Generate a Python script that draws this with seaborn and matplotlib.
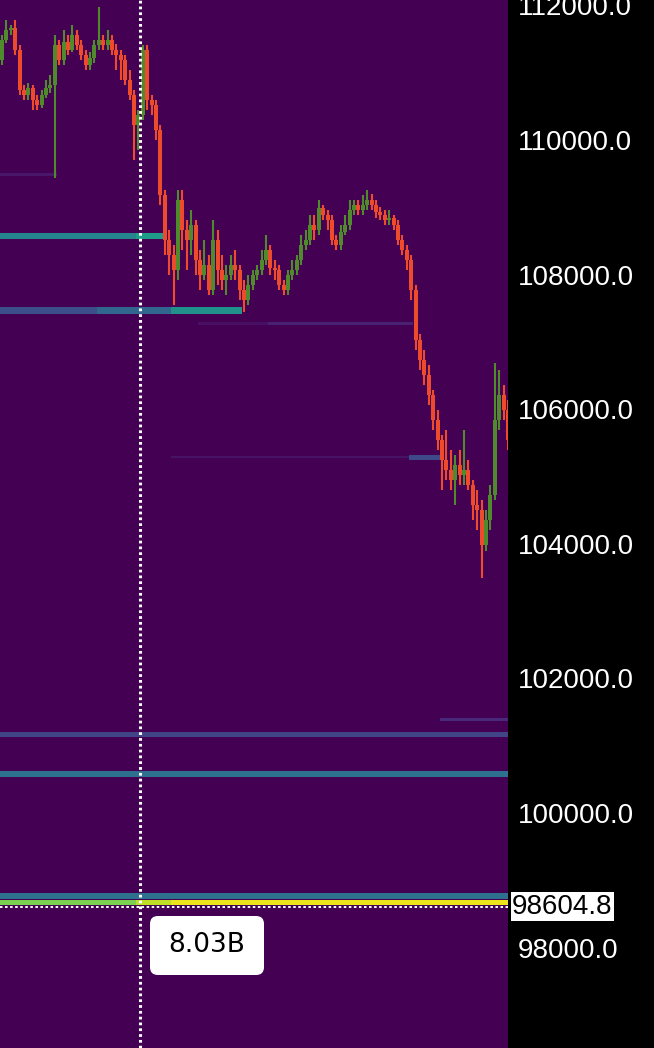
import numpy as np
import pandas as pd
import matplotlib
matplotlib.use("Agg")
import matplotlib.pyplot as plt
import matplotlib.transforms as mtransforms
from matplotlib.patches import FancyBboxPatch
import seaborn as sns

# ---------------- data ----------------
first_open = 111190
closes = [111490, 111640, 111660, 111340, 110740, 110670, 110770, 110590, 110520, 110670,
          110770, 110820, 111410, 111190, 111460, 111340, 111560, 111410, 111260, 111120,
          111220, 111410, 111490, 111410, 111490, 111340, 111260, 111190, 110890, 110670,
          110220, 110370, 111340, 110590, 110520, 110150, 109180, 108510, 108290, 108070,
          109110, 108660, 108510, 108740, 108220, 107990, 108140, 107770, 108510, 108070,
          107920, 107990, 108140, 108070, 107770, 107620, 107850, 107990, 108070, 108220,
          108370, 108100, 108070, 107850, 107770, 107990, 108070, 108220, 108440, 108510,
          108740, 108660, 108990, 108890, 108810, 108510, 108440, 108630, 108740, 108960,
          109030, 108960, 109030, 109110, 109030, 108930, 108890, 108810, 108840, 108740,
          108510, 108370, 108220, 107770, 107030, 106730, 106510, 106210, 105840, 105540,
          105250, 105100, 104950, 105170, 105020, 105100, 104870, 104580, 104500, 103980,
          104350, 104720, 105840, 106210, 105990, 105540]
highs = [111560, 111780, 111710, 111780, 111410, 110820, 110840, 110820, 110670, 110740,
         110890, 110960, 111560, 111490, 111640, 111560, 111710, 111640, 111490, 111340,
         111300, 111490, 111980, 111560, 111640, 111560, 111420, 111340, 111260, 111040,
         110740, 110450, 111410, 111410, 110670, 110590, 110220, 109260, 108660, 108440,
         109260, 109260, 108810, 108960, 108810, 108370, 108510, 108290, 108810, 108660,
         108290, 108140, 108290, 108370, 108140, 107920, 107990, 108070, 108140, 108370,
         108590, 108440, 108220, 108140, 107920, 108070, 108220, 108290, 108590, 108660,
         108890, 108890, 109110, 109040, 108960, 108890, 108590, 108740, 108890, 109110,
         109110, 109110, 109180, 109260, 109200, 109110, 109000, 108960, 108960, 108890,
         108810, 108590, 108440, 108290, 107850, 107110, 106880, 106660, 106280, 105990,
         105620, 105690, 105390, 105320, 105390, 105690, 105250, 104950, 104800, 104650,
         104500, 104870, 106690, 106580, 106360, 106140]
lows = [111120, 111440, 111560, 111260, 110670, 110590, 110600, 110450, 110450, 110480,
        110620, 110700, 109440, 111120, 111120, 111260, 111300, 111340, 111190, 111040,
        111040, 111150, 111340, 111340, 111340, 111260, 111040, 110890, 110820, 110590,
        109700, 109850, 110300, 110450, 110370, 110000, 109030, 108290, 108000, 107550,
        107920, 108370, 108070, 108290, 107990, 107770, 107920, 107700, 107700, 107850,
        107770, 107700, 107920, 107920, 107620, 107440, 107550, 107770, 107920, 107990,
        108140, 107990, 107920, 107770, 107700, 107700, 107920, 107990, 108140, 108370,
        108440, 108510, 108590, 108810, 108660, 108440, 108370, 108370, 108590, 108660,
        108890, 108890, 108890, 108960, 108960, 108840, 108810, 108740, 108740, 108660,
        108440, 108290, 108070, 107620, 106880, 106580, 106360, 106060, 105690, 105390,
        104800, 104950, 104800, 104580, 104870, 104870, 104800, 104350, 104200, 103490,
        103900, 104200, 104650, 105690, 105840, 105390]

# liquidation heat levels: price, band height ($), first candle, last candle, intensity
heat_price = [109480, 108573, 108573, 107474, 107474, 107474, 107281, 107281,
              105289, 105289, 101381, 101173, 100578, 98766, 98670, 98670, 98670]
heat_band = [40, 100, 100, 100, 100, 100, 50, 50, 40, 75, 50, 75, 85, 100, 75, 75, 75]
heat_start = [0, 0, 31, 0, 22, 39, 45, 61, 39, 93, 100, 0, 0, 0, 0, 31, 39]
heat_end = [12, 30, 36, 21, 38, 54, 60, 93, 92, 99, 115, 115, 115, 115, 30, 38, 115]
heat_value = [0.06, 0.45, 0.55, 0.24, 0.33, 0.50, 0.04, 0.09, 0.05, 0.22, 0.12,
              0.20, 0.37, 0.37, 0.80, 0.90, 0.97]

y_ticks = [98000, 100000, 102000, 104000, 106000, 108000, 110000, 112000]
last_price = 98604.8
cursor_candle = 31.4
tooltip_text = "8.03B"

# ---------------- figure ----------------
sns.set_theme(style="dark")
plt.rcParams["font.family"] = ["Liberation Sans", "DejaVu Sans"]

W, H = 654, 1048
fig = plt.figure(figsize=(W / 100, H / 100), dpi=100, facecolor="black")
rect = [0, 0, 508 / W, 1]

x_lo, x_hi = -0.4545, 115.0
y_lo, y_hi = 96508, 112080
P_BASE, BIN = 96500, 15

# heat layer via seaborn heatmap
n = len(closes)
nrows = int(np.ceil((y_hi + 40 - P_BASE) / BIN))
heat = np.zeros((nrows, n))
for p, b, s, e, v in zip(heat_price, heat_band, heat_start, heat_end, heat_value):
    r0 = int(round((p - b / 2 - P_BASE) / BIN))
    r1 = int(round((p + b / 2 - P_BASE) / BIN))
    heat[r0:r1, s:e + 1] = np.maximum(heat[r0:r1, s:e + 1], v)

ax_h = fig.add_axes(rect)
sns.heatmap(pd.DataFrame(heat), ax=ax_h, cmap="viridis", vmin=0, vmax=1, cbar=False,
            xticklabels=False, yticklabels=False, rasterized=True)
ax_h.set_xlim(x_lo + 0.5, x_hi + 0.5)
ax_h.set_ylim((y_lo - P_BASE) / BIN, (y_hi - P_BASE) / BIN)
ax_h.axis("off")

# candles
ax = fig.add_axes(rect)
ax.set_facecolor("none")
c = np.array(closes, dtype=float)
o = np.concatenate([[first_open], c[:-1]])
hi = np.array(highs, dtype=float)
lo = np.array(lows, dtype=float)
idx = np.arange(n)
up_col, dn_col = "#4f8a2c", "#ee4a2c"
cols = [up_col if cc >= oo else dn_col for oo, cc in zip(o, c)]
ax.vlines(idx, lo, hi, colors=cols, linewidth=1.5, zorder=3)
body = np.maximum(np.abs(c - o), 30)
ax.bar(idx, body, bottom=np.minimum(o, c), width=0.92, color=cols, linewidth=0, zorder=4)

# crosshair
ax.axvline(cursor_candle, color="white", lw=2.2, ls=(0, (0.9, 1.0)), zorder=6)
ax.axhline(last_price, color="white", lw=1.4, ls=(0, (1.3, 1.3)), zorder=6)

ax.set_xlim(x_lo, x_hi)
ax.set_ylim(y_lo, y_hi)
ax.set_xticks([])
ax.yaxis.tick_right()
ax.set_yticks(y_ticks)
ax.set_yticklabels([f"{t:.1f}" for t in y_ticks])
ax.tick_params(axis="y", colors="white", labelsize=20, length=0, pad=7)
ax.grid(False)
for s in ax.spines.values():
    s.set_visible(False)

# last price tag
trans = mtransforms.blended_transform_factory(ax.transAxes, ax.transData)
ax.text(1.0 + 4 / 508, last_price, f"{last_price:.1f}", transform=trans, ha="left",
        va="center", fontsize=20, color="black", zorder=7, clip_on=False,
        bbox=dict(boxstyle="square,pad=0.05", fc="white", ec="none"))

# tooltip
bx0, by0, bw, bh = 150, 916, 114, 59
fig.patches.append(FancyBboxPatch((bx0 / W, 1 - (by0 + bh) / H), bw / W, bh / H,
                                  boxstyle="round,pad=0,rounding_size=0.012",
                                  transform=fig.transFigure, fc="white", ec="none",
                                  mutation_aspect=W / H, zorder=8))
fig.text((bx0 + bw / 2) / W, 1 - (by0 + bh / 2) / H, tooltip_text, ha="center",
         va="center", fontsize=19, color="black", family="DejaVu Sans", zorder=9)

fig.savefig("out.png", dpi=100, facecolor="black")
